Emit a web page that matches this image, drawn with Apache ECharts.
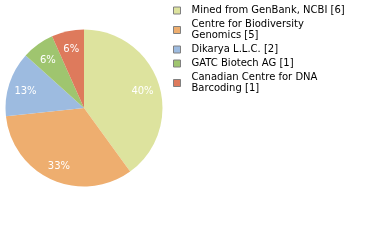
<!DOCTYPE html>
<html><head><meta charset="utf-8">
<script src="https://cdn.jsdelivr.net/npm/echarts@6/dist/echarts.min.js"></script>
<style>html,body{margin:0;padding:0;background:#fff}#c{width:380px;height:240px}</style>
</head><body><div id="c"></div>
<script>
const categories = ["Mined from GenBank, NCBI", "Centre for Biodiversity Genomics", "Dikarya L.L.C.", "GATC Biotech AG", "Canadian Centre for DNA Barcoding"];
const counts = [6, 5, 2, 1, 1];
const legendLines = ["Mined from GenBank, NCBI [6]", "Centre for Biodiversity\nGenomics [5]", "Dikarya L.L.C. [2]", "GATC Biotech AG [1]", "Canadian Centre for DNA\nBarcoding [1]"];
const colors = ["#dde39e", "#eeae6f", "#9dbbe0", "#9fc56f", "#de7a5c"];
const total = counts.reduce((a,b)=>a+b,0);
const font = "'DejaVu Sans', sans-serif";
const chart = echarts.init(document.getElementById('c'), null, {renderer:'canvas'});
const pieData = categories.map((c,i)=>({name:c, value:counts[i]}));
chart.setOption({
  animation: false,
  color: colors,
  legend: {
    orient: 'vertical', left: 173, top: 5, itemWidth: 7, itemHeight: 7, itemGap: 3,
    icon: 'rect', selectedMode: false, padding: 0,
    itemStyle: {borderColor: '#808080', borderWidth: 1},
    textStyle: {fontFamily: font, fontSize: 10, color: '#000', lineHeight: 11, padding:[0,0,0,6]},
    formatter: name => legendLines[categories.indexOf(name)]
  },
  series: [{
    type: 'pie', center: [84, 108], radius: 78.5, startAngle: 90, clockwise: true,
    data: pieData,
    label: {show: false}, labelLine: {show:false},
    itemStyle: {borderWidth: 0},
    emphasis: {disabled: true}, silent: true
  }, {
    type: 'pie', center: [84, 108], radius: 117, startAngle: 90, clockwise: true,
    data: pieData,
    itemStyle: {color: 'rgba(0,0,0,0)'},
    label: {position: 'inside', color: '#fff', fontFamily: font, fontSize: 10,
      offset: [0, 2],
      formatter: p => Math.floor(p.value/total*100) + '%'},
    labelLine: {show:false},
    emphasis: {disabled: true}, silent: true
  }]
});
</script></body></html>
